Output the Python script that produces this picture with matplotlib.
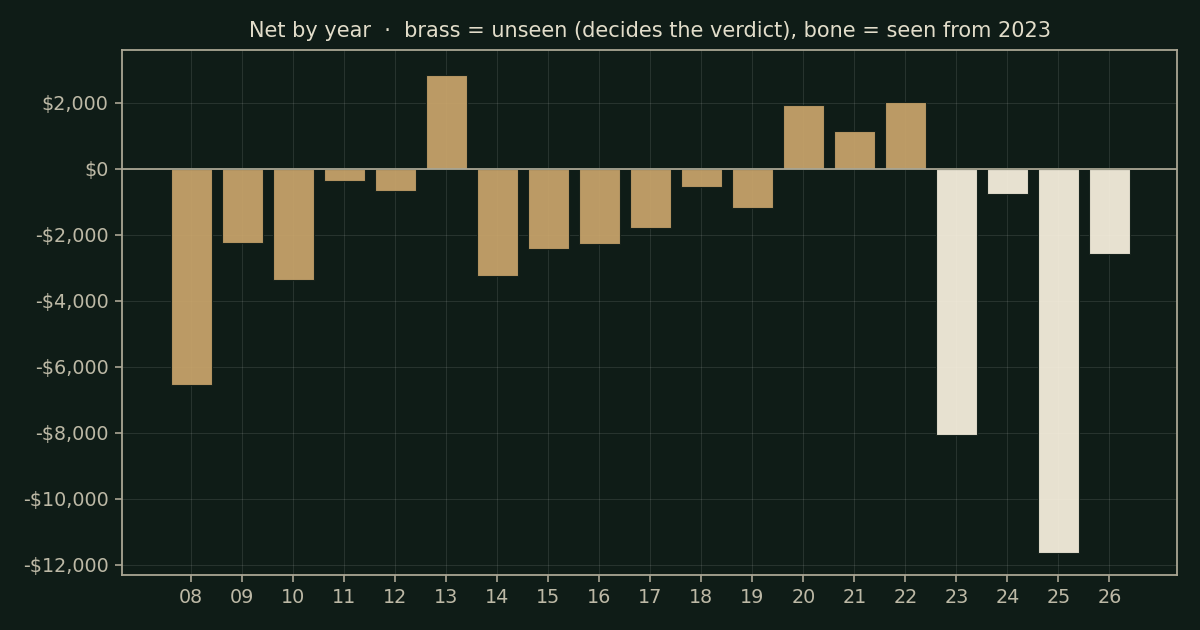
import matplotlib
matplotlib.use("Agg")
import matplotlib.pyplot as plt
from matplotlib.ticker import FuncFormatter

years = ["08", "09", "10", "11", "12", "13", "14", "15", "16", "17",
         "18", "19", "20", "21", "22", "23", "24", "25", "26"]
net = [-6550, -2270, -3380, -370, -690, 2830, -3250, -2450, -2300, -1810,
       -570, -1200, 1920, 1130, 2010, -8060, -780, -11650, -2600]
seen_from = "23"

BG = "#0f1c17"
BRASS = "#cba66c"
BONE = "#fbf3e1"
TEXT = "#bdb9a6"
SPINE = "#aaa694"

colors = [BONE if int(y) >= int(seen_from) else BRASS for y in years]

fig = plt.figure(figsize=(12, 6.3), dpi=100, facecolor=BG)
ax = fig.add_axes([0.102, 0.088, 0.879, 0.832])
ax.set_facecolor(BG)

x = list(range(len(years)))
ax.bar(x, net, width=0.8, color=colors, alpha=0.92, edgecolor=BG, linewidth=0.8, zorder=2)
ax.axhline(0, color=SPINE, linewidth=1.3, zorder=3)

ax.set_xlim(-1.35, len(years) - 1 + 1.33)
ax.set_ylim(-12300, 3580)
ax.set_yticks(range(-12000, 2001, 2000))
ax.yaxis.set_major_formatter(FuncFormatter(lambda v, p: f"-${abs(v):,.0f}" if v < 0 else f"${v:,.0f}"))
ax.set_xticks(x)
ax.set_xticklabels(years)

ax.grid(True, color="#ffffff", alpha=0.1, linewidth=0.8, zorder=1)
ax.set_axisbelow(True)
for s in ax.spines.values():
    s.set_color(SPINE)
    s.set_linewidth(1.3)
ax.tick_params(colors=SPINE, labelcolor=TEXT, labelsize=13.8, length=5, width=1.2, pad=5)

ax.set_title("Net by year  ·  brass = unseen (decides the verdict), bone = seen from 2023",
             color="#e2ddca", fontsize=15, pad=10)

fig.savefig("out.png", dpi=100, facecolor=BG)
